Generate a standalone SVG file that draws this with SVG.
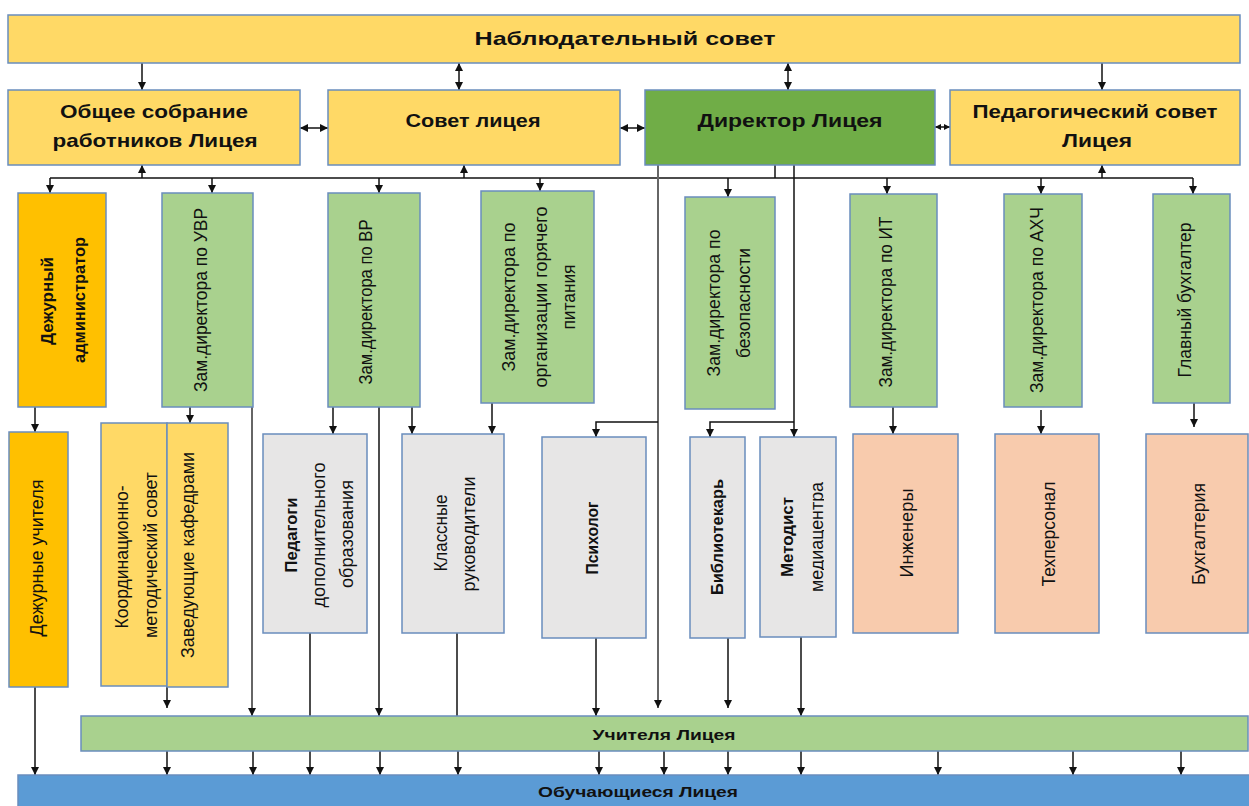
<svg xmlns="http://www.w3.org/2000/svg" width="1249" height="806" viewBox="0 0 1249 806">
<style>
.box{stroke:#6A8DBD;stroke-width:1.5}
.yl{fill:#FFD966}.or{fill:#FFC000}.dg{fill:#70AD47}.gr{fill:#A9D18E}.gy{fill:#E7E6E6}.pc{fill:#F8CBAD}.bl{fill:#5B9BD5}
.h{font-family:"Liberation Sans",Arial,sans-serif;font-weight:bold;font-size:19px;text-anchor:middle;fill:#111}
.s{font-family:"Liberation Sans",Arial,sans-serif;font-weight:bold;font-size:14px;text-anchor:middle;fill:#111}
.v{font-family:"Liberation Sans",Arial,sans-serif;font-size:18px;text-anchor:middle;fill:#111}
.vb{font-family:"Liberation Sans",Arial,sans-serif;font-size:17px;font-weight:bold;text-anchor:middle;fill:#111}
.c{stroke:#111;stroke-width:1.5;fill:none}
.g{stroke:#666;stroke-width:2;fill:none}
.a{marker-end:url(#ah)}
.d{marker-start:url(#ah);marker-end:url(#ah)}
.ds{marker-start:url(#as);marker-end:url(#as)}
</style>
<defs>
<marker id="ah" viewBox="0 0 10 10" refX="10" refY="5" markerWidth="8" markerHeight="8" markerUnits="userSpaceOnUse" orient="auto-start-reverse"><path d="M0,0 L10,5 L0,10 z" fill="#111"/></marker>
<marker id="as" viewBox="0 0 10 10" refX="10" refY="5" markerWidth="6" markerHeight="7" markerUnits="userSpaceOnUse" orient="auto-start-reverse"><path d="M0,0 L10,5 L0,10 z" fill="#111"/></marker>
<clipPath id="metclip"><rect x="760" y="437" width="64" height="200"/></clipPath>
</defs>
<rect width="1249" height="806" fill="#fff"/>

<g id="connectors">
<path class="c a" d="M142,63 V90"/>
<path class="c d" d="M459,63 V90"/>
<path class="c d" d="M788,63 V90"/>
<path class="c a" d="M1102,63 V90"/>
<path class="c d" d="M300,128 H328"/>
<path class="c d" d="M620,128 H645"/>
<path class="c ds" d="M935,127 H950"/>
<path class="c" d="M50,178 H1193"/>
<path class="c" d="M775,165 V178"/>
<path class="c a" d="M142,178 V165"/>
<path class="c a" d="M464,178 V165"/>
<path class="c a" d="M1102,178 V165"/>
<path class="c a" d="M50,178 V193"/>
<path class="c a" d="M212,178 V193"/>
<path class="c a" d="M379,178 V193"/>
<path class="c a" d="M540,178 V191"/>
<path class="c a" d="M728,178 V197"/>
<path class="c a" d="M887,178 V194"/>
<path class="c a" d="M1041,178 V194"/>
<path class="c a" d="M1193,178 V194"/>
<path class="g a" d="M658,165 V708"/>
<path class="c a" d="M658,422 H596 V437"/>
<path class="c a" d="M794,165 V437"/>
<path class="c a" d="M794,422 H710 V437"/>
<path class="c a" d="M35,407 V432"/>
<path class="c a" d="M190,407 V423"/>
<path class="g a" d="M252,407 V716"/>
<path class="c a" d="M333,407 V434"/>
<path class="c a" d="M412,407 V434"/>
<path class="c a" d="M379,407 V716"/>
<path class="c a" d="M492,403 V434"/>
<path class="c a" d="M893,407 V434"/>
<path class="c a" d="M1041,410 V434"/>
<path class="c a" d="M1194,403 V427"/>
<path class="c a" d="M167,686 V708"/>
<path class="c" d="M310,633 V716"/>
<path class="c" d="M457,633 V716"/>
<path class="c a" d="M596,638 V716"/>
<path class="c a" d="M728,638 V708"/>
<path class="c a" d="M801,637 V716"/>
<path class="c a" d="M35,687 V775"/>
<path class="c a" d="M167,751 V775"/>
<path class="c a" d="M253,751 V775"/>
<path class="c a" d="M310,751 V775"/>
<path class="c a" d="M380,751 V775"/>
<path class="c a" d="M458,751 V775"/>
<path class="c a" d="M599,751 V775"/>
<path class="c a" d="M664,751 V775"/>
<path class="c a" d="M728,751 V775"/>
<path class="c a" d="M801,751 V775"/>
<path class="c a" d="M938,751 V775"/>
<path class="c a" d="M1073,751 V775"/>
<path class="c a" d="M1181,751 V775"/>
</g>

<g id="nabl"><rect class="box yl" x="8" y="15" width="1232" height="48"/>
<text class="h" x="625" y="45" textLength="301" lengthAdjust="spacingAndGlyphs">Наблюдательный совет</text></g>
<g id="obshchee"><rect class="box yl" x="8" y="90" width="292" height="75"/>
<text class="h" x="154" y="118" textLength="188" lengthAdjust="spacingAndGlyphs">Общее собрание</text>
<text class="h" x="155" y="147" textLength="205" lengthAdjust="spacingAndGlyphs">работников Лицея</text></g>
<g id="sovet"><rect class="box yl" x="328" y="90" width="292" height="75"/>
<text class="h" x="473" y="127" textLength="135" lengthAdjust="spacingAndGlyphs">Совет лицея</text></g>
<g id="director"><rect class="box dg" x="645" y="90" width="290" height="75"/>
<text class="h" x="790" y="127" textLength="185" lengthAdjust="spacingAndGlyphs">Директор Лицея</text></g>
<g id="pedsovet"><rect class="box yl" x="950" y="90" width="290" height="75"/>
<text class="h" x="1095" y="118" textLength="245" lengthAdjust="spacingAndGlyphs">Педагогический совет</text>
<text class="h" x="1097" y="147" textLength="70" lengthAdjust="spacingAndGlyphs">Лицея</text></g>

<g id="adm"><rect class="box or" x="18" y="193" width="88" height="214"/>
<text class="vb" transform="translate(48,301) rotate(-90)" y="5" textLength="88" lengthAdjust="spacingAndGlyphs">Дежурный</text>
<text class="vb" transform="translate(80,300) rotate(-90)" y="5" textLength="126" lengthAdjust="spacingAndGlyphs">администратор</text></g>
<g id="uvr"><rect class="box gr" x="162" y="193" width="91" height="214"/>
<text class="v" transform="translate(202,300) rotate(-90)" y="5" textLength="184" lengthAdjust="spacingAndGlyphs">Зам.директора по УВР</text></g>
<g id="vr"><rect class="box gr" x="328" y="193" width="92" height="214"/>
<text class="v" transform="translate(367,302) rotate(-90)" y="5" textLength="165" lengthAdjust="spacingAndGlyphs">Зам.директора по ВР</text></g>
<g id="food"><rect class="box gr" x="481" y="191" width="113" height="212"/>
<text class="v" transform="translate(510,297) rotate(-90)" y="5" textLength="149" lengthAdjust="spacingAndGlyphs">Зам.директора по</text>
<text class="v" transform="translate(542,297) rotate(-90)" y="5" textLength="181" lengthAdjust="spacingAndGlyphs">организации горячего</text>
<text class="v" transform="translate(570,297) rotate(-90)" y="5" textLength="65" lengthAdjust="spacingAndGlyphs">питания</text></g>
<g id="bez"><rect class="box gr" x="685" y="197" width="90" height="212"/>
<text class="v" transform="translate(715,303) rotate(-90)" y="5" textLength="147" lengthAdjust="spacingAndGlyphs">Зам.директора по</text>
<text class="v" transform="translate(745,303) rotate(-90)" y="5" textLength="110" lengthAdjust="spacingAndGlyphs">безопасности</text></g>
<g id="it"><rect class="box gr" x="850" y="194" width="87" height="213"/>
<text class="v" transform="translate(887,302) rotate(-90)" y="5" textLength="171" lengthAdjust="spacingAndGlyphs">Зам.директора по ИТ</text></g>
<g id="ahch"><rect class="box gr" x="1004" y="194" width="78" height="213"/>
<text class="v" transform="translate(1038,300) rotate(-90)" y="5" textLength="186" lengthAdjust="spacingAndGlyphs">Зам.директора по АХЧ</text></g>
<g id="buh"><rect class="box gr" x="1153" y="194" width="77" height="209"/>
<text class="v" transform="translate(1186,300) rotate(-90)" y="5" textLength="155" lengthAdjust="spacingAndGlyphs">Главный бухгалтер</text></g>

<g id="dezhur"><rect class="box or" x="9" y="432" width="59" height="255"/>
<text class="v" transform="translate(38,558) rotate(-90)" y="5" textLength="157" lengthAdjust="spacingAndGlyphs">Дежурные учителя</text></g>
<g id="kms"><rect class="box yl" x="101" y="423" width="66" height="263"/>
<text class="v" transform="translate(123,557) rotate(-90)" y="5" textLength="143" lengthAdjust="spacingAndGlyphs">Координационно-</text>
<text class="v" transform="translate(152,555) rotate(-90)" y="5" textLength="166" lengthAdjust="spacingAndGlyphs">методический совет</text></g>
<g id="kaf"><rect class="box yl" x="167" y="423" width="61" height="264"/>
<text class="v" transform="translate(189,555) rotate(-90)" y="5" textLength="206" lengthAdjust="spacingAndGlyphs">Заведующие кафедрами</text></g>
<g id="pdo"><rect class="box gy" x="263" y="434" width="104" height="199"/>
<text class="vb" transform="translate(292,535) rotate(-90)" y="5" textLength="75" lengthAdjust="spacingAndGlyphs">Педагоги</text>
<text class="v" transform="translate(320,535) rotate(-90)" y="5" textLength="145" lengthAdjust="spacingAndGlyphs">дополнительного</text>
<text class="v" transform="translate(348,534) rotate(-90)" y="5" textLength="108" lengthAdjust="spacingAndGlyphs">образования</text></g>
<g id="klass"><rect class="box gy" x="402" y="434" width="102" height="199"/>
<text class="v" transform="translate(442,533) rotate(-90)" y="5" textLength="77" lengthAdjust="spacingAndGlyphs">Классные</text>
<text class="v" transform="translate(470,534) rotate(-90)" y="5" textLength="115" lengthAdjust="spacingAndGlyphs">руководители</text></g>
<g id="psy"><rect class="box gy" x="542" y="437" width="104" height="201"/>
<text class="vb" transform="translate(593,538) rotate(-90)" y="5" textLength="73" lengthAdjust="spacingAndGlyphs">Психолог</text></g>
<g id="bib"><rect class="box gy" x="690" y="437" width="55" height="201"/>
<text class="vb" transform="translate(718,537) rotate(-90)" y="5" textLength="116" lengthAdjust="spacingAndGlyphs">Библиотекарь</text></g>
<g id="met"><rect class="box gy" x="760" y="437" width="76" height="200"/>
<text class="vb" transform="translate(788,537) rotate(-90)" y="5" textLength="80" lengthAdjust="spacingAndGlyphs">Методист</text>
<g clip-path="url(#metclip)"><text class="v" transform="translate(818,537) rotate(-90)" y="5" textLength="110" lengthAdjust="spacingAndGlyphs">медиацентра</text></g></g>
<g id="eng"><rect class="box pc" x="853" y="434" width="105" height="199"/>
<text class="v" transform="translate(908,533) rotate(-90)" y="5" textLength="89" lengthAdjust="spacingAndGlyphs">Инженеры</text></g>
<g id="tech"><rect class="box pc" x="995" y="434" width="104" height="199"/>
<text class="v" transform="translate(1050,534) rotate(-90)" y="5" textLength="105" lengthAdjust="spacingAndGlyphs">Техперсонал</text></g>
<g id="acc"><rect class="box pc" x="1146" y="434" width="102" height="199"/>
<text class="v" transform="translate(1200,534) rotate(-90)" y="5" textLength="102" lengthAdjust="spacingAndGlyphs">Бухгалтерия</text></g>

<g id="teachers"><rect class="box gr" x="81" y="716" width="1167" height="35"/>
<text class="s" x="664" y="740" textLength="143" lengthAdjust="spacingAndGlyphs">Учителя Лицея</text></g>
<g id="students"><rect class="box bl" x="18" y="775" width="1240" height="40"/>
<text class="s" x="638" y="797" textLength="200" lengthAdjust="spacingAndGlyphs">Обучающиеся Лицея</text></g>
</svg>
